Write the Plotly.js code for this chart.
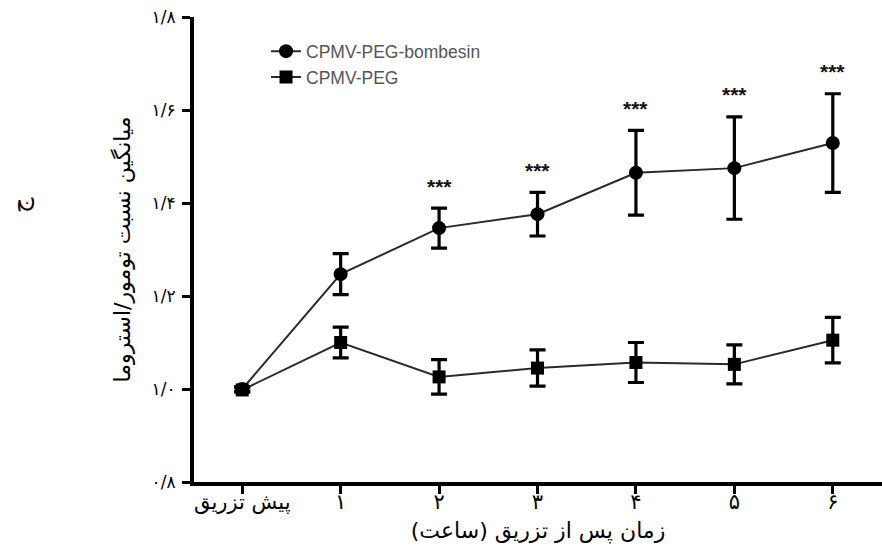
<!DOCTYPE html>
<html>
<head>
<meta charset="utf-8">
<script src="https://cdn.plot.ly/plotly-3.0.1.min.js"></script>
<style>
  html, body { margin: 0; padding: 0; background: #fff; }
  #chart { width: 882px; height: 552px; }
</style>
</head>
<body>
<div id="chart"></div>
<script>
// ---- data ----
var xPositions = [0, 1, 2, 3, 4, 5, 6];
var xTickLabels = ['پیش تزریق', '۱', '۲', '۳', '۴', '۵', '۶'];

var bombesinName = 'CPMV-PEG-bombesin';
var bombesinMean = [1.00, 1.247, 1.346, 1.376, 1.465, 1.475, 1.529];
var bombesinErr  = [0.005, 0.044, 0.043, 0.047, 0.091, 0.110, 0.106];

var pegName = 'CPMV-PEG';
var pegMean = [0.998, 1.100, 1.026, 1.045, 1.057, 1.053, 1.105];
var pegErr  = [0.005, 0.033, 0.037, 0.039, 0.043, 0.042, 0.049];

var significance = ['', '', '***', '***', '***', '***', '***'];

var yTickVals  = [0.8, 1.0, 1.2, 1.4, 1.6, 1.8];
var yTickTexts = ['۰/۸', '۱/۰', '۱/۲', '۱/۴', '۱/۶', '۱/۸'];

var xTitle = 'زمان پس از تزریق (ساعت)';
var yTitle = 'میانگین نسبت تومور/استروما';
var panelLabel = 'ج';

// ---- traces ----
var faFont = 'DejaVu Sans, sans-serif';
var latinFont = 'Arial, Liberation Sans, sans-serif';
var traces = [
  {
    x: xPositions, y: bombesinMean, name: bombesinName,
    type: 'scatter', mode: 'lines+markers',
    line: { color: '#2a2a2a', width: 2 },
    marker: { symbol: 'circle', size: 14, color: '#000' },
    error_y: { type: 'data', array: bombesinErr, visible: true, color: '#000', thickness: 3.2, width: 8 }
  },
  {
    x: xPositions, y: pegMean, name: pegName,
    type: 'scatter', mode: 'lines+markers',
    line: { color: '#2a2a2a', width: 2 },
    marker: { symbol: 'square', size: 13, color: '#000' },
    error_y: { type: 'data', array: pegErr, visible: true, color: '#000', thickness: 3.2, width: 8 }
  }
];

var annotations = [];
for (var i = 0; i < xPositions.length; i++) {
  if (!significance[i]) continue;
  annotations.push({
    x: xPositions[i], y: bombesinMean[i] + bombesinErr[i],
    xref: 'x', yref: 'y', text: '<b>' + significance[i] + '</b>',
    showarrow: false, yanchor: 'middle', yshift: 22,
    font: { family: latinFont, size: 21, color: '#111' }
  });
}
annotations.push({
  x: (20 - 194) / 688, y: 1 - (205 - 17) / 465, xref: 'paper', yref: 'paper',
  xanchor: 'center', yanchor: 'middle',
  text: panelLabel, showarrow: false, textangle: -90,
  font: { family: faFont, size: 24, color: '#000' }
});

var layout = {
  width: 882, height: 552,
  margin: { l: 194, r: 0, t: 17, b: 70 },
  paper_bgcolor: '#fff', plot_bgcolor: '#fff',
  showlegend: true,
  legend: {
    x: 0.1047, y: 0.965, xanchor: 'left', yanchor: 'top',
    bgcolor: 'rgba(0,0,0,0)', borderwidth: 0,
    font: { family: latinFont, size: 17.5, color: '#555' },
    tracegroupgap: 0, itemwidth: 30
  },
  xaxis: {
    range: [-0.49, 6.5],
    tickmode: 'array', tickvals: xPositions, ticktext: xTickLabels,
    showline: true, linecolor: '#000', linewidth: 4,
    ticks: 'outside', ticklen: 8, tickwidth: 3, tickcolor: '#000',
    showgrid: false, zeroline: false,
    tickfont: { family: faFont, size: 21, color: '#000' },
    ticklabelstandoff: -10,
    title: { text: xTitle, font: { family: faFont, size: 22, color: '#000' }, standoff: 10 },
    automargin: false
  },
  yaxis: {
    range: [0.8, 1.8],
    tickmode: 'array', tickvals: yTickVals, ticktext: yTickTexts,
    showline: true, linecolor: '#000', linewidth: 4,
    ticks: 'outside', ticklen: 8, tickwidth: 3, tickcolor: '#000',
    showgrid: false, zeroline: false,
    tickfont: { family: faFont, size: 17, color: '#000' },
    ticklabelstandoff: 3,
    title: { text: yTitle, font: { family: faFont, size: 22, color: '#000' }, standoff: 16 },
    automargin: false
  },
  annotations: annotations
};

Plotly.newPlot('chart', traces, layout, { displayModeBar: false, staticPlot: true });
</script>
</body>
</html>
